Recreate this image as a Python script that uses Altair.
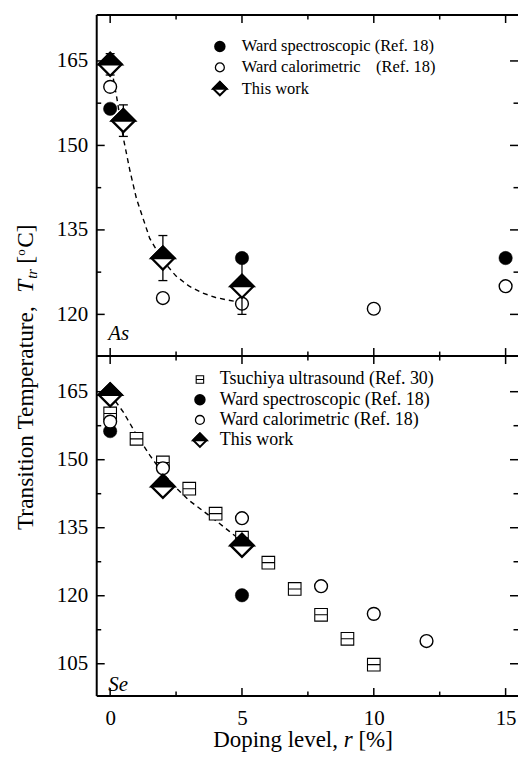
import altair as alt
import pandas as pd

SERIF = "Liberation Serif"

# ---------------- upper panel: As doping ----------------
as_spec_r = [0, 5, 15]
as_spec_t = [156.5, 130.0, 130.0]
as_cal_r = [0, 2, 5, 10, 15]
as_cal_t = [160.4, 122.9, 121.9, 121.0, 125.0]
as_work_r = [0, 0.5, 2, 5]
as_work_t = [164.4, 154.4, 130.0, 125.0]
as_work_err = [1.9, 2.8, 4.0, 5.0]
as_fit_r = [0, 0.25, 0.5, 0.75, 1.0, 1.5, 2.0, 2.5, 3.0, 3.5, 4.0, 4.5, 5.0]
as_fit_t = [165.0, 158.5, 151.3, 145.5, 140.5, 133.5, 129.5, 126.8, 125.0, 123.8, 123.0, 122.5, 122.1]

# ---------------- lower panel: Se doping ----------------
se_tsu_r = [0, 1, 2, 3, 4, 5, 6, 7, 8, 9, 10]
se_tsu_t = [160.2, 154.6, 149.4, 143.6, 138.1, 132.8, 127.3, 121.5, 115.8, 110.5, 104.8]
se_spec_r = [0, 5]
se_spec_t = [156.3, 120.1]
se_cal_r = [0, 2, 5, 8, 10, 12]
se_cal_t = [158.4, 148.1, 137.1, 122.1, 116.0, 110.0]
se_work_r = [0, 2, 5]
se_work_t = [164.3, 144.1, 131.1]
se_fit_r = [0, 0.5, 1.0, 1.5, 2.0, 2.5, 3.0, 3.5, 4.0, 4.5, 5.0]
se_fit_t = [164.5, 160.5, 155.5, 151.0, 147.0, 143.8, 141.0, 138.8, 136.6, 134.3, 132.0]

# ---------------- ticks and labels ----------------
x_major = [0, 5, 10, 15]
x_minor = [2.5, 7.5, 12.5]
as_y_major = [120, 135, 150, 165]
as_y_minor = [127.5, 142.5, 157.5]
se_y_major = [105, 120, 135, 150, 165]
se_y_minor = [112.5, 127.5, 142.5, 157.5]

as_legend = ["Ward spectroscopic (Ref. 18)", "Ward calorimetric", "This work"]
as_legend_ref = "(Ref. 18)"
se_legend = ["Tsuchiya ultrasound (Ref. 30)", "Ward spectroscopic (Ref. 18)",
             "Ward calorimetric (Ref. 18)", "This work"]

# ---------------- geometry ----------------
W = 422.5
H1 = 342
H2 = 341
x_scale = alt.Scale(domain=[-0.51, 15.47], nice=False, zero=False)
y1_scale = alt.Scale(domain=[112.6, 173.15], nice=False, zero=False)
y2_scale = alt.Scale(domain=[97.87, 172.86], nice=False, zero=False)

ONE = pd.DataFrame({"k": [0]})
HALF_DIAMOND = "M-1,0L0,-1L1,0Z"
SPLIT_SQUARE = "M-1,-1H1V1H-1Z M-1,0H1"


def y_axis(vals):
    return alt.Axis(values=vals, title=None, ticks=False, tickSize=0, domain=False,
                    grid=False, labelFont=SERIF, labelFontSize=21, labelColor="black",
                    labelPadding=9, labelOverlap=False)


x_axis_bottom = alt.Axis(values=x_major, title=None, ticks=False, tickSize=0, domain=False,
                         grid=False, labelFont=SERIF, labelFontSize=21, labelColor="black",
                         labelPadding=12, labelFlush=False, labelOverlap=False)


def text(s, x, y, size=16.5, style="normal", align="left", baseline="middle", angle=0):
    kw = dict(text=s, font=SERIF, fontSize=size, fontStyle=style, align=align,
              baseline=baseline, color="black")
    if angle:
        kw["angle"] = angle
    return alt.Chart(ONE).mark_text(**kw).encode(x=alt.value(x), y=alt.value(y))


def sym(kind, x, y, size):
    if kind == "filled":
        m = alt.Chart(ONE).mark_point(shape="circle", filled=True, fill="black",
                                      stroke="black", size=size, opacity=1)
        return [m.encode(x=alt.value(x), y=alt.value(y))]
    if kind == "open":
        m = alt.Chart(ONE).mark_point(shape="circle", filled=True, fill="white",
                                      stroke="black", strokeWidth=1.3, size=size, opacity=1)
        return [m.encode(x=alt.value(x), y=alt.value(y))]
    if kind == "square":
        m = alt.Chart(ONE).mark_point(shape=SPLIT_SQUARE, filled=True, fill="white",
                                      stroke="black", strokeWidth=1.1, size=size, opacity=1)
        return [m.encode(x=alt.value(x), y=alt.value(y))]
    a = alt.Chart(ONE).mark_point(shape="diamond", filled=True, fill="white",
                                  stroke="black", strokeWidth=2, size=size, opacity=1)
    b = alt.Chart(ONE).mark_point(shape=HALF_DIAMOND, filled=True, fill="black",
                                  stroke="black", strokeWidth=2, size=size, opacity=1)
    return [a.encode(x=alt.value(x), y=alt.value(y)), b.encode(x=alt.value(x), y=alt.value(y))]


def panel(h, ys, yax, xax, y_major, y_minor):
    def X(f):
        return alt.X(f"{f}:Q", scale=x_scale, axis=xax)

    def Y(f):
        return alt.Y(f"{f}:Q", scale=ys, axis=yax)

    layers = []
    # frame (left, top, bottom)
    rule = alt.Chart(ONE).mark_rule(color="black", strokeWidth=2)
    layers.append(rule.encode(x=alt.value(0), y=alt.value(0), y2=alt.value(h)))
    layers.append(rule.encode(y=alt.value(0), x=alt.value(0), x2=alt.value(W)))
    layers.append(rule.encode(y=alt.value(h), x=alt.value(0), x2=alt.value(W)))
    # inward ticks on all four sides
    for vals, ln in [(x_major, 8), (x_minor, 4.5)]:
        t = alt.Chart(pd.DataFrame({"v": vals})).mark_rule(color="black", strokeWidth=1.5)
        layers.append(t.encode(x=X("v"), y=alt.value(0), y2=alt.value(ln)))
        layers.append(t.encode(x=X("v"), y=alt.value(h), y2=alt.value(h - ln)))
    for vals, ln in [(y_major, 8), (y_minor, 4.5)]:
        t = alt.Chart(pd.DataFrame({"v": vals})).mark_rule(color="black", strokeWidth=1.5)
        layers.append(t.encode(y=Y("v"), x=alt.value(0), x2=alt.value(ln)))
        layers.append(t.encode(y=Y("v"), x=alt.value(W), x2=alt.value(W - ln)))

    def fit(r, t):
        return alt.Chart(pd.DataFrame({"r": r, "t": t})).mark_line(
            color="black", strokeWidth=1.4, strokeDash=[5, 4]).encode(x=X("r"), y=Y("t"))

    def squares(r, t):
        return alt.Chart(pd.DataFrame({"r": r, "t": t})).mark_point(
            shape=SPLIT_SQUARE, filled=True, fill="white", stroke="black", strokeWidth=1.1,
            size=160, opacity=1).encode(x=X("r"), y=Y("t"))

    def open_c(r, t):
        return alt.Chart(pd.DataFrame({"r": r, "t": t})).mark_point(
            shape="circle", filled=True, fill="white", stroke="black", strokeWidth=1.4,
            size=165, opacity=1).encode(x=X("r"), y=Y("t"))

    def filled_c(r, t):
        return alt.Chart(pd.DataFrame({"r": r, "t": t})).mark_point(
            shape="circle", filled=True, fill="black", stroke="black", strokeWidth=0.5,
            size=180, opacity=1).encode(x=X("r"), y=Y("t"))

    def errbars(r, t, e):
        base = alt.Chart(pd.DataFrame({"r": r, "t": t, "e": e})).transform_calculate(
            lo="datum.t - datum.e", hi="datum.t + datum.e")
        out = [base.mark_rule(color="black", strokeWidth=1.3).encode(
            x=X("r"), y=Y("lo"), y2=alt.Y2("hi:Q"))]
        cap = base.mark_point(shape="M-1,0H1", size=81, stroke="black", strokeWidth=1.3,
                              filled=False, opacity=1)
        out.append(cap.encode(x=X("r"), y=Y("lo")))
        out.append(cap.encode(x=X("r"), y=Y("hi")))
        return out

    def diamonds(r, t):
        d = pd.DataFrame({"r": r, "t": t})
        a = alt.Chart(d).mark_point(shape="diamond", filled=True, fill="white", stroke="black",
                                    strokeWidth=2.3, size=529, opacity=1).encode(x=X("r"), y=Y("t"))
        b = alt.Chart(d).mark_point(shape=HALF_DIAMOND, filled=True, fill="black", stroke="black",
                                    strokeWidth=2.3, size=529, opacity=1).encode(x=X("r"), y=Y("t"))
        return [a, b]

    return layers, fit, squares, open_c, filled_c, errbars, diamonds


# ---------------- upper panel ----------------
top_layers, fit, squares, open_c, filled_c, errbars, diamonds = panel(
    H1, y1_scale, y_axis(as_y_major), None, as_y_major, as_y_minor)
top_layers.append(fit(as_fit_r, as_fit_t))
top_layers.append(open_c(as_cal_r, as_cal_t))
top_layers.append(filled_c(as_spec_r, as_spec_t))
top_layers += errbars(as_work_r, as_work_t, as_work_err)
top_layers += diamonds(as_work_r, as_work_t)

# legend
leg_rows = [31.5, 52.5, 73.8]
top_layers += sym("filled", 123.5, leg_rows[0], 90)
top_layers += sym("open", 123.5, leg_rows[1], 80)
top_layers += sym("diamond", 123.5, leg_rows[2], 180)
for lab, yy in zip(as_legend, leg_rows):
    top_layers.append(text(lab, 145.5, yy))
top_layers.append(text(as_legend_ref, 280.2, leg_rows[1]))
top_layers.append(text("As", 11.5, 325.5, size=21, style="italic", baseline="alphabetic"))

# y-axis title, spanning both panels
YT_X = -64
YT = 23.4
top_layers.append(text("Transition Temperature,", YT_X, 516.5, size=YT, baseline="alphabetic", angle=270))
top_layers.append(text("T", YT_X, 278.5, size=YT, style="italic", baseline="alphabetic", angle=270))
top_layers.append(text("tr", YT_X + 4, 264.5, size=14.5, style="italic", baseline="alphabetic", angle=270))
top_layers.append(text("[", YT_X, 249.5, size=YT, baseline="alphabetic", angle=270))
top_layers.append(text("o", YT_X - 8, 241.5, size=13, baseline="alphabetic", angle=270))
top_layers.append(text("C]", YT_X, 233.5, size=YT, baseline="alphabetic", angle=270))

# keeps the plot origin at a fixed offset from the page corner
top_layers.append(alt.Chart(ONE).mark_rule(opacity=0, strokeWidth=0.01).encode(
    x=alt.value(-96.5), x2=alt.value(-96.5), y=alt.value(-13.5), y2=alt.value(0)))

top = alt.layer(*top_layers).properties(width=W, height=H1)

# ---------------- lower panel ----------------
bot_layers, fit, squares, open_c, filled_c, errbars, diamonds = panel(
    H2, y2_scale, y_axis(se_y_major), x_axis_bottom, se_y_major, se_y_minor)
bot_layers.append(fit(se_fit_r, se_fit_t))
bot_layers.append(squares(se_tsu_r, se_tsu_t))
bot_layers.append(filled_c(se_spec_r, se_spec_t))
bot_layers.append(open_c(se_cal_r, se_cal_t))
bot_layers += diamonds(se_work_r, se_work_t)

leg_rows2 = [23.5, 43.8, 64.1, 84.4]
bot_layers += sym("square", 103.5, leg_rows2[0], 56)
bot_layers += sym("filled", 103.5, leg_rows2[1], 90)
bot_layers += sym("open", 103.5, leg_rows2[2], 80)
bot_layers += sym("diamond", 103.5, leg_rows2[3], 180)
for lab, yy in zip(se_legend, leg_rows2):
    bot_layers.append(text(lab, 123.5, yy, size=18))
bot_layers.append(text("Se", 11.5, 335.5, size=21, style="italic", baseline="alphabetic"))

# x-axis title
bot_layers.append(text("Doping level,", 116.8, 391.7, size=23, baseline="alphabetic"))
bot_layers.append(text("r", 247.8, 391.7, size=23, style="italic", baseline="alphabetic"))
bot_layers.append(text("[%]", 262.5, 391.7, size=23, baseline="alphabetic"))

bottom = alt.layer(*bot_layers).properties(width=W, height=H2)

chart = alt.vconcat(top, bottom, spacing=0, bounds="flush").properties(
    padding=0, background="white"
).configure_view(stroke=None)

chart.save("out.html", embed_options={"renderer": "svg", "actions": False})
